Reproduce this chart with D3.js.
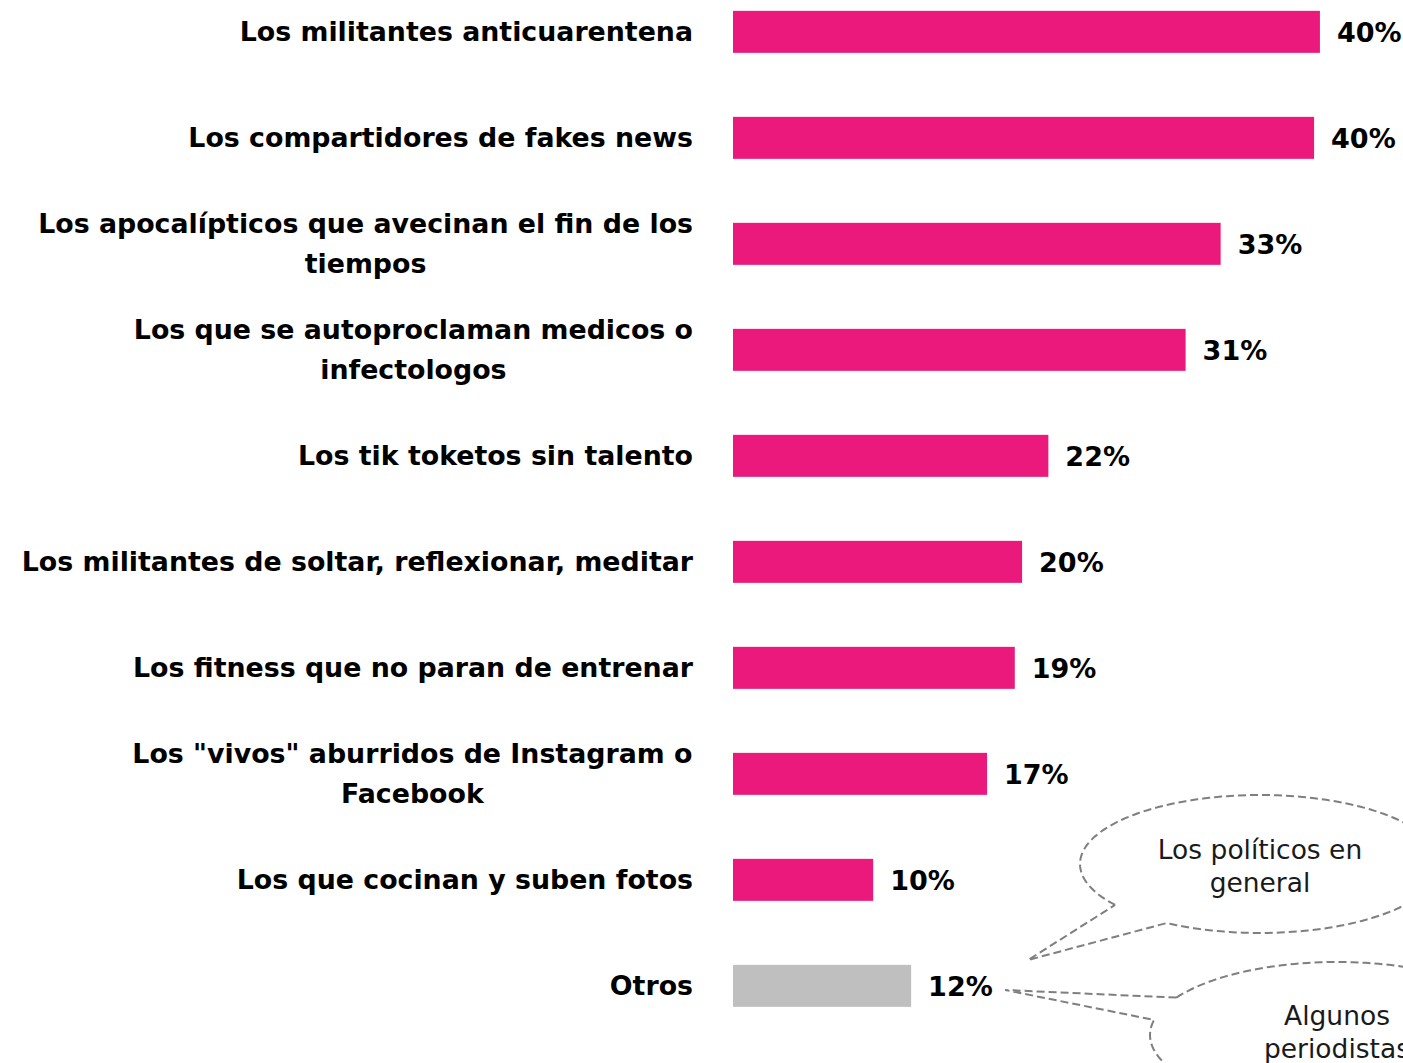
<!DOCTYPE html>
<html>
<head>
<meta charset="utf-8">
<script src="https://cdn.jsdelivr.net/npm/d3@7"></script>
<style>
  body { margin: 0; background: #fff; }
  svg { display: block; }
  .cat { font-family: "DejaVu Sans", sans-serif; font-weight: bold; font-size: 26.8px; fill: #000; }
  .val { font-family: "DejaVu Sans", sans-serif; font-weight: bold; font-size: 27px; fill: #000; }
  .note { font-family: "DejaVu Sans", sans-serif; font-size: 26.5px; fill: #1a1a1a; }
</style>
</head>
<body>
<div id="chart"></div>
<script>
// categories (line breaks where the original wraps)
var categories = [
  "Los militantes anticuarentena",
  "Los compartidores de fakes news",
  "Los apocalípticos que avecinan el fin de los\ntiempos",
  "Los que se autoproclaman medicos o\ninfectologos",
  "Los tik toketos sin talento",
  "Los militantes de soltar, reflexionar, meditar",
  "Los fitness que no paran de entrenar",
  "Los \"vivos\" aburridos de Instagram o\nFacebook",
  "Los que cocinan y suben fotos",
  "Otros"
];
var values = [40.2, 39.8, 33.4, 31.0, 21.6, 19.8, 19.3, 17.4, 9.6, 12.2];

var callout_texts = [
  ["Los políticos en", "general"],
  ["Algunos", "periodistas"]
];

var width = 1403, height = 1063;

var svg = d3.select("#chart").append("svg")
  .attr("width", width)
  .attr("height", height);

var x = d3.scaleLinear()
  .domain([0, 45])
  .range([733, 733 + 45 * 14.6]);

var y = d3.scaleBand()
  .domain(categories)
  .range([-21.15, 1038.85])
  .paddingInner(0.6038)
  .paddingOuter(0.3019);

// bars
svg.append("g").selectAll("rect")
  .data(categories)
  .enter().append("rect")
  .attr("x", x(0))
  .attr("y", function(d) { return y(d); })
  .attr("width", function(d, i) { return x(values[i]) - x(0); })
  .attr("height", y.bandwidth())
  .attr("fill", function(d) { return d == "Otros" ? "#bfbfbf" : "#ea197b"; });

// value labels
svg.append("g").selectAll("text")
  .data(categories)
  .enter().append("text")
  .attr("class", "val")
  .attr("x", function(d, i) { return x(values[i]) + 17; })
  .attr("y", function(d) { return y(d) + y.bandwidth() / 2; })
  .attr("dy", "0.36em")
  .text(function(d, i) { return Math.round(values[i]) + "%"; });

// category labels, multi-line ones are centred within a right aligned block
var lineH = 40;
var labels = svg.append("g");
categories.forEach(function(d) {
  var lines = d.split("\n");
  var cy = y(d) + y.bandwidth() / 2;
  var t = labels.append("text")
    .attr("class", "cat")
    .attr("text-anchor", "end");
  lines.forEach(function(line, j) {
    t.append("tspan")
      .attr("x", 693)
      .attr("y", cy + (j - (lines.length - 1) / 2) * lineH)
      .attr("dy", "0.36em")
      .text(line);
  });
  if (lines.length > 1) {
    // center the shorter lines under the widest one
    var w = t.node().getBBox().width;
    t.attr("text-anchor", "middle");
    t.selectAll("tspan").attr("x", 693 - w / 2);
  }
});

// dashed oval callouts for the "Otros" bar
var otrosEnd = x(values[values.length - 1]);
var callouts = [
  { cx: 1260, cy: 864, rx: 180, ry: 69, a1: 143.6, a2: 121.2, tip: [otrosEnd + 117, 960] },
  { cx: 1337, cy: 1035, rx: 187, ry: 73, a1: 210.8, a2: 191.9, tip: [otrosEnd + 94, 990] }
];

function callout_path(c) {
  var pts = [];
  var start = c.a1, end = c.a2;
  if (end <= start) end += 360;
  for (var a = start; a <= end + 0.001; a += 2) {
    var r = a * Math.PI / 180;
    pts.push([c.cx + c.rx * Math.cos(r), c.cy + c.ry * Math.sin(r)]);
  }
  var r2 = end * Math.PI / 180;
  pts.push([c.cx + c.rx * Math.cos(r2), c.cy + c.ry * Math.sin(r2)]);
  pts.push(c.tip);
  pts.push(pts[0]);
  return d3.line()(pts);
}

svg.append("g").selectAll("path")
  .data(callouts)
  .enter().append("path")
  .attr("d", callout_path)
  .attr("fill", "none")
  .attr("stroke", "#7f7f7f")
  .attr("stroke-width", 2)
  .attr("stroke-dasharray", "8,4");

callouts.forEach(function(c, i) {
  var t = svg.append("text")
    .attr("class", "note")
    .attr("text-anchor", "middle");
  callout_texts[i].forEach(function(line, j) {
    t.append("tspan")
      .attr("x", c.cx)
      .attr("y", (i == 0 ? 849 : 1015) + j * 33)
      .attr("dy", "0.36em")
      .text(line);
  });
});
</script>
</body>
</html>
